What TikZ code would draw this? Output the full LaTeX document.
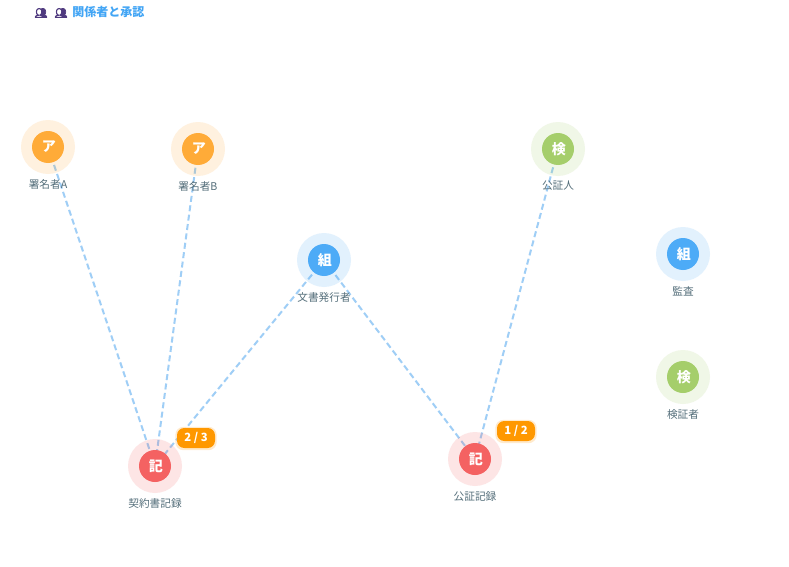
\documentclass[tikz,border=0pt]{standalone}
\usepackage{fontspec}
\setmainfont{Noto Sans CJK JP}
\newfontfamily\emojifont[FakeBold=7]{Noto Emoji}
\usetikzlibrary{backgrounds}
\definecolor{cOrange}{HTML}{FFAB38}
\definecolor{cBlue}{HTML}{4DABF7}
\definecolor{cGreen}{HTML}{A5CE6B}
\definecolor{cRed}{HTML}{F46262}
\definecolor{cEdge}{HTML}{9FCEF6}
\definecolor{cLabel}{HTML}{546E7A}
\definecolor{cBadge}{HTML}{FF9800}
\definecolor{cTitle}{HTML}{42A5F5}
\definecolor{cIcon}{HTML}{4F3A7F}
\tikzset{
  x=0.75pt,y=-0.75pt,
  halo/.style={circle,minimum size=40.5pt,inner sep=0pt,fill=#1,fill opacity=.16,text opacity=1},
  core/.style={circle,minimum size=24pt,inner sep=0pt,fill=#1,text=white,font=\fontsize{10.5}{12}\selectfont\bfseries},
  lab/.style={text=cLabel,font=\fontsize{8}{10}\selectfont,inner sep=0pt},
  edge/.style={draw=cEdge,line width=1.5pt,dash pattern=on 4.5pt off 2.6pt},
  badge/.style={rounded corners=5.5pt,fill=cBadge,text=white,minimum width=28.5pt,minimum height=15pt,inner sep=0pt,font=\fontsize{8.5}{10}\selectfont\bfseries},
  badgeshadow/.style={rounded corners=6pt,fill=cBadge,fill opacity=.2,minimum width=31pt,minimum height=17.5pt,inner sep=0pt},
}
\newcommand{\person}[6]{% name, x, y, colour, glyph, label
  \node[halo=#4] (#1) at (#2,#3) {};
  \node[core=#4] (#1c) at (#1) {\kern1.2pt #5};
  \node[lab] (#1l) at (#2,#3+37) {#6};
}
\begin{document}
\begin{tikzpicture}
\useasboundingbox (0,0) rectangle (789,567);
\node[inner sep=0pt,text=cIcon,font=\fontsize{7.5}{9}\selectfont\emojifont] (ic1) at (41,13) {\symbol{"1F465}};
\node[inner sep=0pt,text=cIcon,font=\fontsize{7.5}{9}\selectfont\emojifont] (ic2) at (61,13) {\symbol{"1F465}};
\node[inner sep=0pt,anchor=west,text=cTitle,font=\fontsize{9}{11}\selectfont\bfseries] (title) at (72,11.5) {関係者と承認};
\person{a}{48}{147}{cOrange}{ア}{署名者A}
\person{b}{198}{149}{cOrange}{ア}{署名者B}
\person{c}{558}{149}{cGreen}{検}{公証人}
\person{d}{324}{260}{cBlue}{組}{文書発行者}
\person{e}{683}{254}{cBlue}{組}{監査}
\person{f}{683}{377}{cGreen}{検}{検証者}
\person{g}{155}{466}{cRed}{記}{契約書記録}
\person{h}{475}{459}{cRed}{記}{公証記録}
\begin{scope}[on background layer]
\fill[white] (0,0) rectangle (789,567);
\draw[edge] (a.center) -- (g.center);
\draw[edge] (b.center) -- (g.center);
\draw[edge] (d.center) -- (g.center);
\draw[edge] (d.center) -- (h.center);
\draw[edge] (c.center) -- (h.center);
\end{scope}
\node[badgeshadow] (s1) at (196,438.5) {};
\node[badge] (b1) at (196,438) {2 / 3};
\node[badgeshadow] (s2) at (516,431.5) {};
\node[badge] (b2) at (516,431) {1 / 2};
\end{tikzpicture}
\end{document}
